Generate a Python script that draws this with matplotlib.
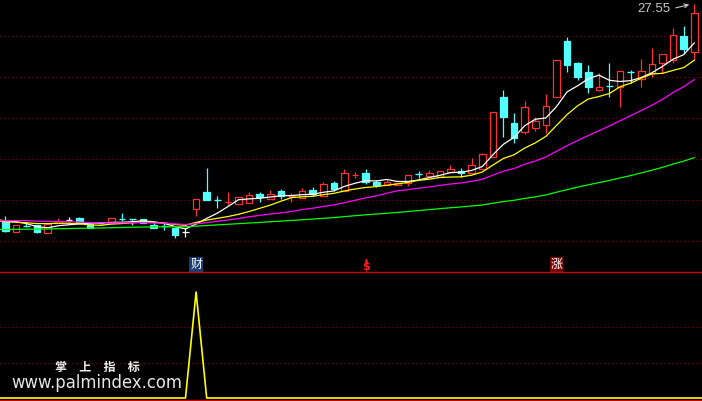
import numpy as np
import matplotlib
matplotlib.use('Agg')
import matplotlib.pyplot as plt
from matplotlib.patches import Rectangle
from matplotlib.lines import Line2D

plt.rcParams['font.family'] = ['DejaVu Sans', 'Noto Sans CJK SC']

# ---------------- data ----------------
opens = [12.43, 11.61, 12.01, 12.08, 11.54, 12.19, 12.43, 12.55, 12.15, 12.24,
         12.20, 12.50, 12.50, 12.50, 12.08, 12.01, 11.85, 11.61, 13.20, 14.39,
         13.85, 13.66, 13.55, 13.64, 14.25, 13.88, 14.46, 14.10, 13.99, 14.53,
         14.11, 15.00, 14.46, 15.53, 15.70, 15.11, 14.91, 14.88, 15.00, 15.67,
         15.51, 15.46, 15.76, 15.88, 15.69, 15.98, 16.81, 21.04, 19.22, 18.61,
         18.85, 19.10, 21.02, 24.94, 23.40, 22.79, 21.53, 21.83, 21.72, 22.79,
         22.28, 22.74, 23.40, 23.63, 25.31, 24.21]
highs = [12.71, 12.08, 12.24, 12.08, 12.15, 12.57, 12.66, 12.66, 12.15, 12.29,
         12.55, 12.90, 12.52, 12.50, 12.36, 12.29, 11.85, 11.85, 13.90, 16.07,
         14.11, 14.39, 14.02, 14.39, 14.37, 14.53, 14.60, 14.30, 14.65, 14.72,
         15.07, 15.16, 16.00, 15.76, 16.00, 15.23, 15.23, 15.00, 15.58, 15.88,
         15.93, 15.86, 16.28, 16.05, 16.77, 17.14, 19.97, 21.53, 19.92, 20.76,
         19.61, 21.25, 23.63, 25.22, 23.51, 23.25, 22.74, 23.44, 22.88, 22.93,
         23.67, 24.44, 24.05, 25.85, 26.01, 27.55]
lows = [11.62, 11.61, 11.92, 11.54, 11.54, 12.19, 12.29, 12.24, 11.87, 12.15,
        12.20, 12.36, 12.08, 12.20, 11.85, 11.76, 11.19, 11.26, 12.71, 13.83,
        13.25, 13.48, 13.55, 13.64, 13.71, 13.88, 13.88, 13.71, 13.99, 14.11,
        14.11, 14.48, 14.46, 15.35, 14.95, 14.76, 14.91, 14.88, 14.83, 15.35,
        15.51, 15.46, 15.76, 15.46, 15.69, 15.98, 16.81, 18.22, 17.80, 18.45,
        18.66, 18.52, 21.02, 22.81, 22.20, 21.34, 21.48, 21.06, 20.36, 22.00,
        21.72, 22.44, 22.74, 23.40, 24.10, 23.63]
closes = [11.66, 12.08, 11.94, 11.61, 12.15, 12.36, 12.43, 12.24, 11.87, 12.22,
          12.55, 12.46, 12.45, 12.20, 11.85, 11.99, 11.38, 11.61, 13.90, 13.83,
          13.81, 13.69, 14.02, 14.18, 14.06, 14.25, 14.11, 14.12, 14.46, 14.23,
          14.93, 14.60, 15.70, 15.56, 15.11, 14.85, 15.11, 15.00, 15.58, 15.63,
          15.70, 15.86, 15.97, 15.70, 16.28, 17.05, 19.97, 19.66, 18.14, 20.32,
          19.33, 20.41, 23.63, 23.30, 22.46, 21.76, 21.72, 21.80, 22.88, 22.77,
          22.86, 23.35, 24.05, 25.38, 24.38, 26.94]
# closes before the visible window, estimated from where the MA lines start
prior_closes = [11.40,
                11.50, 11.40, 11.30, 11.45, 11.60, 11.50, 11.35, 11.30, 11.40, 11.50,
                11.45, 11.30, 11.35, 11.40, 11.50, 11.45, 11.30,
                11.35, 11.20, 11.10, 11.25, 11.40, 11.50, 11.45, 11.30, 11.40, 11.55,
                11.50, 11.60, 11.50,
                11.55, 11.70, 11.60, 11.50, 11.65, 11.75, 11.60, 11.55, 11.70, 11.70,
                11.90, 12.10, 12.30, 12.45, 12.60, 12.70, 12.65, 12.70, 12.60, 12.60,
                12.40, 12.30, 12.20, 12.15, 12.15,
                12.40, 12.60, 12.70, 12.50]
ma_periods = [5, 10, 20, 60]
ma_colors = ['#ffffff', '#ffff00', '#ff00ff', '#00ff00']

signal = [0, 0, 0, 0, 0, 0, 0, 0, 0, 0,
          0, 0, 0, 0, 0, 0, 0, 0, 1, 0,
          0, 0, 0, 0, 0, 0, 0, 0, 0, 0,
          0, 0, 0, 0, 0, 0, 0, 0, 0, 0,
          0, 0, 0, 0, 0, 0, 0, 0, 0, 0,
          0, 0, 0, 0, 0, 0, 0, 0, 0, 0,
          0, 0, 0, 0, 0, 0]

marker_labels = ['财', '$', '涨']
marker_idx = [18, 34, 52]
high_label = '27.55'
site_title = '掌　上　指　标'
site_url = 'www.palmindex.com'

# ---------------- layout ----------------
W, H = 702, 401
fig = plt.figure(figsize=(W / 100, H / 100), dpi=100, facecolor='black')
top_px = 271
ax1 = fig.add_axes([0, 1 - top_px / H, 1, top_px / H])
ax2 = fig.add_axes([0, 0, 1, (H - 272) / H])
for ax in (ax1, ax2):
    ax.set_facecolor('black')
    for s in ax.spines.values():
        s.set_visible(False)
    ax.set_xticks([])
    ax.set_yticks([])

n = len(closes)
xmin, xmax = -0.5, 65.73
y1min, y1max = 8.86, 27.83
ax1.set_xlim(xmin, xmax)
ax1.set_ylim(y1min, y1max)
ax2.set_xlim(xmin, xmax)
ax2.set_ylim(-0.0283, 1.1887)

def px2y(py):
    return y1max - py / top_px * (y1max - y1min)

def px2x(px):
    return xmin + px / W * (xmax - xmin)

grid_kw = dict(color='#b00000', lw=0.8, linestyle=(0, (0.9, 2.7)), zorder=0)
for py in [36, 77, 118, 159, 200, 241]:
    ax1.axhline(px2y(py), **grid_kw)
for v in [1 / 3, 2 / 3]:
    ax2.axhline(v, **grid_kw)

# ---------------- candles ----------------
UP = '#ff3232'
DOWN = '#54ffff'
w = 0.63
for i in range(n):
    o, h, l, c = opens[i], highs[i], lows[i], closes[i]
    if abs(c - o) < 1e-9:
        col = '#ffffff'
        ax1.vlines(i, l, h, color=col, lw=0.9, zorder=2)
        ax1.hlines(o, i - w / 2, i + w / 2, color=col, lw=0.9, zorder=2)
        continue
    if c > o:
        col = UP
        ax1.vlines(i, c, h, color=col, lw=0.9, zorder=2)
        ax1.vlines(i, l, o, color=col, lw=0.9, zorder=2)
        if c - o < 0.08:
            ax1.hlines((o + c) / 2, i - w / 2, i + w / 2, color=col, lw=1.0, zorder=2)
        else:
            ax1.add_patch(Rectangle((i - w / 2, o), w, c - o, facecolor='black',
                                    edgecolor=col, lw=0.9, zorder=2))
    else:
        col = DOWN
        ax1.vlines(i, l, h, color=col, lw=0.9, zorder=2)
        if o - c < 0.08:
            ax1.hlines((o + c) / 2, i - w / 2, i + w / 2, color=col, lw=1.0, zorder=2)
        else:
            ax1.add_patch(Rectangle((i - w / 2, c), w, o - c, facecolor=col,
                                    edgecolor=col, lw=0.9, zorder=2))

# ---------------- moving averages ----------------
full = np.array(prior_closes + closes, dtype=float)
off = len(prior_closes)
xs = np.arange(-1, n)
for p, colr in zip(ma_periods, ma_colors):
    vals = [full[off + x - p + 1: off + x + 1].mean() for x in xs]
    ax1.plot(xs, vals, color=colr, lw=0.9, zorder=3)

# ---------------- annotations ----------------
ax1.text(px2x(670), px2y(9.5), high_label, ha='right', va='center',
         fontsize=9.5, color='#c8c8c8', family='Liberation Sans', zorder=5)
ax1.annotate('', xy=(px2x(692), px2y(4)), xytext=(px2x(673), px2y(8.5)),
             arrowprops=dict(arrowstyle='->', color='#c8c8c8', lw=0.8,
                             mutation_scale=7), zorder=5)

label_style = {
    '财': dict(color='white', bg='#173f72'),
    '涨': dict(color='white', bg='#7a0808'),
}
for lab, idx in zip(marker_labels, marker_idx):
    if lab in label_style:
        st = label_style[lab]
        ax1.text(idx, px2y(264.5), lab, ha='center', va='center', fontsize=8.6,
                 color=st['color'], family=['Noto Sans CJK SC'],
                 bbox=dict(boxstyle='square,pad=0.08', fc=st['bg'], ec='none'),
                 zorder=6)
    else:
        ax1.text(idx, px2y(266.5), lab, ha='center', va='center', fontsize=8,
                 fontweight='bold', color='#ff2020', zorder=6)
        ax1.plot([idx], [px2y(260)], marker='^', ms=3, color='#ff2020',
                 mec='none', zorder=6)

# ---------------- bottom panel ----------------
ax2.plot(np.arange(-1, n + 1), [0] + signal + [0], color='#ffff00', lw=1.2, zorder=3)

fig.add_artist(Line2D([0, 1], [1 - 271.5 / H] * 2, color='#cc0000', lw=1.0))
fig.add_artist(Line2D([0, 1], [1 - 399.6 / H] * 2, color='#cc0000', lw=1.0))

fig.text(97.5 / W, 1 - 367.5 / H, site_title, ha='center', va='center',
         fontsize=8.7, fontweight='bold', color='#f0f0f0',
         family=['Noto Sans CJK SC'])
fig.text(96.7 / W, 1 - 387.5 / H, site_url, ha='center', va='baseline',
         fontsize=11.9, color='#e6e6e6', family='DejaVu Sans')

fig.savefig('out.png', dpi=100, facecolor='black')
